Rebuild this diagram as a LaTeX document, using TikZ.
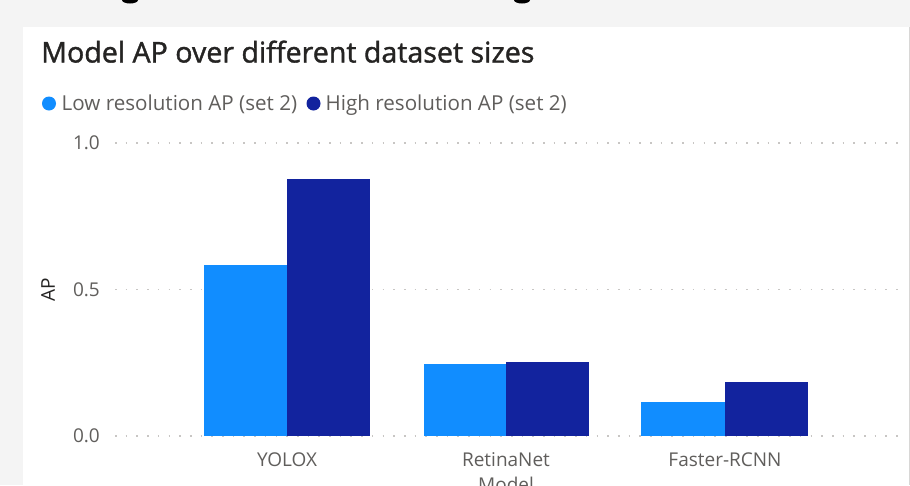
\documentclass[tikz,border=0pt]{standalone}
\usepackage{fontspec}
\setmainfont{Open Sans}
\newfontfamily\titlefont{Open Sans}[FakeBold=1.3]
\definecolor{lowc}{HTML}{118DFF}
\definecolor{highc}{HTML}{12239E}
\definecolor{txtg}{HTML}{605E5C}
\definecolor{titc}{HTML}{252423}
\definecolor{gridc}{HTML}{C8C6C4}
\definecolor{bgc}{HTML}{F4F4F4}
\begin{document}
\begin{tikzpicture}[x=1pt,y=-1pt,
  lowbar/.style={fill=lowc,draw=none},
  highbar/.style={fill=highc,draw=none},
  gridline/.style={gridc,line width=1.6pt,dash pattern=on 1.6pt off 9.1pt},
  ticklab/.style={text=txtg,font=\fontsize{19}{20}\selectfont,inner sep=0pt},
  leglab/.style={text=txtg,font=\fontsize{20.6}{22}\selectfont,inner sep=0pt,anchor=base west},
]
\useasboundingbox (0,0) rectangle (910,485);
\fill[bgc] (0,0) rectangle (910,485);
\fill[white] (23,27) rectangle (909,485);
\draw[gridc!70,line width=0.6pt] (909,27) -- (909,485);
% cut-off glyph fragments at top
\fill[black] (122,0) arc[start angle=180,end angle=360,x radius=8,y radius=-3.5] -- cycle;
\fill[black] (514,0) arc[start angle=180,end angle=360,x radius=8,y radius=-3.5] -- cycle;
% title
\node[anchor=base west,inner sep=0pt,text=titc,font=\titlefont\fontsize{28.6}{31}\selectfont] (title) at (41,62.5) {Model AP over different dataset sizes};
% legend
\fill[lowc] (49,103.5) circle (7);
\node[leglab] (l1) at (61.5,110.5) {Low resolution AP (set 2)};
\fill[highc] (313.5,103.5) circle (7);
\node[leglab] (l2) at (325.5,110.5) {High resolution AP (set 2)};
% grid
\coordinate (g0l) at (115,436); \coordinate (g0r) at (905,436);
\coordinate (g5l) at (115,289.5); \coordinate (g5r) at (905,289.5);
\coordinate (g1l) at (115,143); \coordinate (g1r) at (905,143);
\draw[gridline] (g0l) -- (g0r);
\draw[gridline] (g5l) -- (g5r);
\draw[gridline] (g1l) -- (g1r);
\node[ticklab,anchor=east] (t0) at (100,436) {0.0};
\node[ticklab,anchor=east] (t5) at (100,289.5) {0.5};
\node[ticklab,anchor=east] (t1) at (100,143) {1.0};
\node[ticklab,rotate=90,text=titc] (ylab) at (48,290) {AP};
% bars
\fill[lowbar] (204,265) rectangle (287,436);
\fill[highbar] (287,179) rectangle (370,436);
\fill[lowbar] (424,364) rectangle (506,436);
\fill[highbar] (506,361.5) rectangle (589,436);
\fill[lowbar] (641,401.5) rectangle (725,436);
\fill[highbar] (725,382) rectangle (808,436);
% category labels
\node[ticklab] (c1) at (287,460) {YOLOX};
\node[ticklab] (c2) at (506,460) {RetinaNet};
\node[ticklab] (c3) at (725,460) {Faster-RCNN};
\node[ticklab,anchor=north] (xlab) at (506,477) {Model};
\end{tikzpicture}
\end{document}
